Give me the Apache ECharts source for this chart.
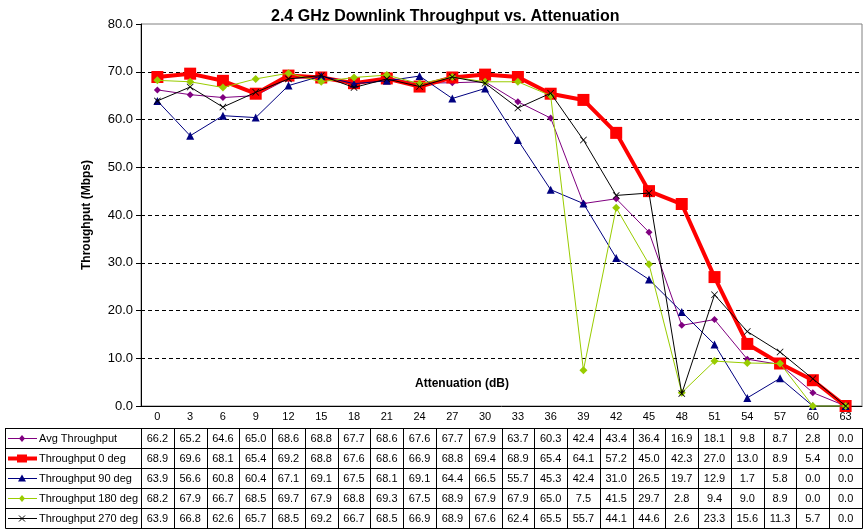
<!DOCTYPE html>
<html>
<head>
<meta charset="utf-8">
<script src="https://cdn.jsdelivr.net/npm/echarts@6/dist/echarts.min.js"></script>
<style>
  html, body { margin: 0; padding: 0; background: #fff; }
  #chart { width: 866px; height: 531px; }
</style>
</head>
<body>
<div id="chart"></div>
<script>
// attenuation steps (dB)
var attenuation = ['0', '3', '6', '9', '12', '15', '18', '21', '24', '27', '30',
  '33', '36', '39', '42', '45', '48', '51', '54', '57', '60', '63'];

var avgThroughput = [66.2, 65.2, 64.6, 65.0, 68.6, 68.8, 67.7, 68.6, 67.6, 67.7, 67.9,
  63.7, 60.3, 42.4, 43.4, 36.4, 16.9, 18.1, 9.8, 8.7, 2.8, 0.0];
var throughput0 = [68.9, 69.6, 68.1, 65.4, 69.2, 68.8, 67.6, 68.6, 66.9, 68.8, 69.4,
  68.9, 65.4, 64.1, 57.2, 45.0, 42.3, 27.0, 13.0, 8.9, 5.4, 0.0];
var throughput90 = [63.9, 56.6, 60.8, 60.4, 67.1, 69.1, 67.5, 68.1, 69.1, 64.4, 66.5,
  55.7, 45.3, 42.4, 31.0, 26.5, 19.7, 12.9, 1.7, 5.8, 0.0, 0.0];
var throughput180 = [68.2, 67.9, 66.7, 68.5, 69.7, 67.9, 68.8, 69.3, 67.5, 68.9, 67.9,
  67.9, 65.0, 7.5, 41.5, 29.7, 2.8, 9.4, 9.0, 8.9, 0.0, 0.0];
var throughput270 = [63.9, 66.8, 62.6, 65.7, 68.5, 69.2, 66.7, 68.5, 66.9, 68.9, 67.6,
  62.4, 65.5, 55.7, 44.1, 44.6, 2.6, 23.3, 15.6, 11.3, 5.7, 0.0];

var seriesNames = ['Avg Throughput', 'Throughput 0 deg', 'Throughput 90 deg',
  'Throughput 180 deg', 'Throughput 270 deg'];

var FONT = 'Arial, "Liberation Sans", sans-serif';
var X_MARK = 'path://M0,0.8L0.8,0L5,4.2L9.2,0L10,0.8L5.8,5L10,9.2L9.2,10L5,5.8L0.8,10L0,9.2L4.2,5Z';

// look of each series (also used for the keys in the data table)
var styles = [
  { color: '#800080', width: 1, symbol: 'diamond', size: 7 },
  { color: '#ff0000', width: 4, symbol: 'rect', size: 12 },
  { color: '#000080', width: 1, symbol: 'triangle', size: 8 },
  { color: '#99cc00', width: 1, symbol: 'diamond', size: 8 },
  { color: '#000000', width: 1, symbol: X_MARK, size: 7 }
];
var seriesData = [avgThroughput, throughput0, throughput90, throughput180, throughput270];

var chart = echarts.init(document.getElementById('chart'));

var option = {
  animation: false,
  backgroundColor: '#fff',
  title: {
    text: '2.4 GHz Downlink Throughput vs. Attenuation',
    left: 266,
    top: 4,
    textStyle: { fontFamily: FONT, fontSize: 16, fontWeight: 'bold', color: '#000' }
  },
  grid: {
    left: 141,
    right: 4,
    top: 24,
    bottom: 125,
    show: true,
    borderColor: '#808080',
    borderWidth: 1,
    outerBoundsMode: 'none'
  },
  xAxis: {
    type: 'category',
    data: attenuation,
    boundaryGap: true,
    axisLine: { lineStyle: { color: '#000', width: 1 } },
    axisTick: { length: 22, lineStyle: { color: '#000' } },
    axisLabel: { margin: 5, color: '#000', fontFamily: FONT, fontSize: 11, interval: 0 },
    splitLine: { show: false }
  },
  yAxis: {
    type: 'value',
    min: 0,
    max: 80,
    interval: 10,
    name: 'Throughput (Mbps)',
    nameLocation: 'middle',
    nameGap: 48,
    nameTextStyle: { fontFamily: FONT, fontSize: 12, fontWeight: 'bold', color: '#000' },
    axisLine: { show: true, lineStyle: { color: '#000', width: 1 } },
    axisTick: { show: true, length: 5, lineStyle: { color: '#000' } },
    axisLabel: {
      margin: 8,
      color: '#000',
      fontFamily: FONT,
      fontSize: 13,
      formatter: function (v) { return v.toFixed(1); }
    },
    splitLine: {
      showMinLine: false,
      showMaxLine: false,
      lineStyle: { color: '#000', type: [4, 3], width: 1 }
    }
  },
  series: seriesNames.map(function (name, i) {
    var s = styles[i];
    return {
      name: name,
      type: 'line',
      data: seriesData[i],
      symbol: s.symbol,
      symbolSize: s.size,
      showAllSymbol: true,
      clip: false,
      lineStyle: { color: s.color, width: s.width },
      itemStyle: { color: s.color, borderWidth: 0 },
      z: 2 + i
    };
  })
};

chart.setOption(option);

// data table under the plot, aligned to the category axis
var xs = attenuation.map(function (c, i) { return chart.convertToPixel({ xAxisIndex: 0 }, i); });
var band = xs[1] - xs[0];
var axisY = chart.convertToPixel({ yAxisIndex: 0 }, 0);
var tableTop = Math.round(axisY) + 22;
var rowH = 20;
var tableLeft = 5.5;
var tableRight = Math.round(xs[xs.length - 1] + band / 2) + 0.5;
var graphic = [];
var lineStyle = { stroke: '#000', lineWidth: 1 };

for (var r = 0; r <= seriesNames.length; r++) {
  var y = tableTop + r * rowH + 0.5;
  graphic.push({ type: 'line', shape: { x1: tableLeft, y1: y, x2: tableRight, y2: y }, style: lineStyle });
}
var tableBottom = tableTop + seriesNames.length * rowH + 0.5;
graphic.push({ type: 'line', shape: { x1: tableLeft, y1: tableTop, x2: tableLeft, y2: tableBottom }, style: lineStyle });
for (var c = 0; c <= xs.length; c++) {
  var bx = Math.round(xs[0] - band / 2 + c * band) + 0.5;
  graphic.push({ type: 'line', shape: { x1: bx, y1: tableTop, x2: bx, y2: tableBottom }, style: lineStyle });
}

seriesNames.forEach(function (name, i) {
  var s = styles[i];
  var cy = tableTop + i * rowH + rowH / 2 + 0.5;
  var kx = 22;
  // key line
  graphic.push({
    type: 'line',
    shape: { x1: 8, y1: cy, x2: 37, y2: cy },
    style: { stroke: s.color, lineWidth: s.width }
  });
  // key marker
  if (s.symbol === 'rect') {
    graphic.push({ type: 'rect', shape: { x: kx - 5, y: cy - 4, width: 10, height: 8 }, style: { fill: s.color } });
  } else if (s.symbol === 'diamond') {
    graphic.push({
      type: 'polygon',
      shape: { points: [[kx, cy - 3.5], [kx + 3, cy], [kx, cy + 3.5], [kx - 3, cy]] },
      style: { fill: s.color }
    });
  } else if (s.symbol === 'triangle') {
    graphic.push({
      type: 'polygon',
      shape: { points: [[kx, cy - 4], [kx + 4, cy + 3], [kx - 4, cy + 3]] },
      style: { fill: s.color }
    });
  } else {
    graphic.push({ type: 'line', shape: { x1: kx - 3, y1: cy - 3, x2: kx + 3, y2: cy + 3 }, style: { stroke: s.color, lineWidth: 1 } });
    graphic.push({ type: 'line', shape: { x1: kx + 3, y1: cy - 3, x2: kx - 3, y2: cy + 3 }, style: { stroke: s.color, lineWidth: 1 } });
  }
  graphic.push({
    type: 'text',
    style: {
      x: 39, y: cy, text: name,
      font: '11px ' + FONT, fill: '#000',
      textAlign: 'left', textVerticalAlign: 'middle'
    }
  });
  seriesData[i].forEach(function (v, j) {
    graphic.push({
      type: 'text',
      style: {
        x: xs[j], y: cy, text: v.toFixed(1),
        font: '11px ' + FONT, fill: '#000',
        textAlign: 'center', textVerticalAlign: 'middle'
      }
    });
  });
});

// x axis title sits inside the plot, just above the axis
graphic.push({
  type: 'text',
  style: {
    x: 462, y: axisY - 22, text: 'Attenuation (dB)',
    font: 'bold 12px ' + FONT, fill: '#000',
    textAlign: 'center', textVerticalAlign: 'middle'
  }
});

chart.setOption({ graphic: graphic });
</script>
</body>
</html>
